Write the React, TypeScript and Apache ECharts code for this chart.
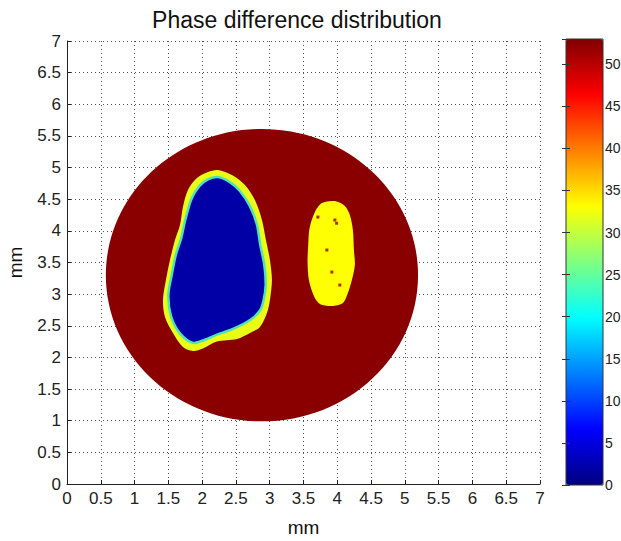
import React, { useEffect, useRef } from 'react';
import * as echarts from 'echarts';

// ---- data (mm / phase units) ----
const axisMin = 0;
const axisMax = 7;
const axisStep = 0.5;

const colorbarMin = 0;
const colorbarMax = 53;
const colorbarStep = 5;

// sample disc
const discCenter = [2.885, 3.3];
const discRadius = 2.31;
const discPhase = 52.5;

// large (left) region: outer rim and core
const leftRimOutline = [
  [2.234, 4.961], [2.441, 4.882], [2.633, 4.724], [2.781, 4.487], [2.885, 4.171],
  [2.944, 3.855], [3.003, 3.539], [3.033, 3.223], [3.003, 2.907], [2.959, 2.701],
  [2.855, 2.48], [2.707, 2.385], [2.515, 2.29], [2.219, 2.25], [2.012, 2.14],
  [1.864, 2.1], [1.716, 2.164], [1.568, 2.385], [1.45, 2.638], [1.42, 2.907],
  [1.464, 3.223], [1.524, 3.539], [1.598, 3.855], [1.672, 4.092], [1.716, 4.376],
  [1.79, 4.645], [1.923, 4.834], [2.086, 4.929],
];
const leftRimPhase = 32;

const leftCoreOutline = [
  [2.234, 4.85], [2.411, 4.77], [2.559, 4.63], [2.707, 4.39], [2.81, 4.1],
  [2.86, 3.78], [2.92, 3.46], [2.94, 3.144], [2.91, 2.907], [2.86, 2.749],
  [2.72, 2.6], [2.456, 2.45], [2.219, 2.36], [2.041, 2.28], [1.864, 2.23],
  [1.672, 2.38], [1.54, 2.65], [1.5, 2.986], [1.55, 3.302], [1.61, 3.618],
  [1.69, 3.886], [1.75, 4.171], [1.84, 4.5], [1.96, 4.71], [2.1, 4.82],
];
const leftCorePhase = 2;

// small (right) region
const rightRegionOutline = [
  [3.772, 4.439], [3.964, 4.471], [4.112, 4.392], [4.186, 4.25], [4.231, 4.013],
  [4.246, 3.697], [4.26, 3.46], [4.216, 3.223], [4.157, 3.017], [4.083, 2.859],
  [3.92, 2.812], [3.743, 2.844], [3.654, 2.97], [3.58, 3.223], [3.56, 3.507],
  [3.57, 3.776], [3.59, 4.044], [3.669, 4.297],
];
const rightRegionPhase = 33;

// dark specks inside the right region
const speckX = [3.964, 3.92, 3.713, 3.846, 4.038, 3.99];
const speckY = [4.171, 3.349, 4.218, 3.697, 3.144, 4.12];
const speckPhase = 52;

const jetColors = [
  '#000080', '#0000FF', '#0080FF', '#00FFFF', '#80FF80',
  '#FFFF00', '#FF8000', '#FF0000', '#800000',
];

const outlines: number[][][] = [[], leftRimOutline, leftCoreOutline, rightRegionOutline];
const regionPhases = [discPhase, leftRimPhase, leftCorePhase, rightRegionPhase];

const FONT = '"Liberation Sans", Arial, Helvetica, sans-serif';

export default function App() {
  const ref = useRef<HTMLDivElement>(null);

  useEffect(() => {
    if (!ref.current) return;
    const chart = echarts.init(ref.current, undefined, { renderer: 'svg' });

    const regionData = regionPhases.map((v, i) => [i, 0, v]);
    const speckData = speckX.map((x, i) => [x, speckY[i], speckPhase]);

    const mainAxisCommon = {
      type: 'value' as const,
      min: axisMin,
      max: axisMax,
      interval: axisStep,
      axisLine: { show: true, lineStyle: { color: '#222', width: 1 } },
      axisTick: { show: true, inside: true, length: 4, lineStyle: { color: '#222' } },
      axisLabel: { color: '#222', fontSize: 17, fontFamily: FONT, margin: 6 },
      splitLine: { show: true, lineStyle: { color: '#555', type: [1, 3] as any, width: 1 } },
      nameTextStyle: { color: '#111', fontSize: 19, fontFamily: FONT },
    };

    chart.setOption({
      animation: false,
      backgroundColor: '#fff',
      title: {
        text: 'Phase difference distribution',
        left: 292,
        textAlign: 'center',
        top: 3,
        textStyle: { fontSize: 23, fontWeight: 'normal', color: '#111', fontFamily: FONT },
      },
      grid: [
        { left: 67, top: 41, width: 473, height: 443, show: false, outerBoundsMode: 'none', containLabel: false },
        {
          left: 566, top: 39, width: 37, height: 446, show: true, borderColor: '#333', borderWidth: 1,
          backgroundColor: 'transparent', z: 10, outerBoundsMode: 'none', containLabel: false,
        },
      ],
      xAxis: [
        { ...mainAxisCommon, gridIndex: 0, name: 'mm', nameLocation: 'middle', nameGap: 34 },
        { type: 'value', gridIndex: 1, min: 0, max: 1, show: false },
      ],
      yAxis: [
        { ...mainAxisCommon, gridIndex: 0, name: 'mm', nameLocation: 'middle', nameGap: 42, nameRotate: 90 },
        {
          type: 'value', gridIndex: 1, position: 'right', min: colorbarMin, max: colorbarMax, interval: colorbarStep,
          axisLine: { show: false },
          axisTick: { show: true, inside: true, length: 4, lineStyle: { color: '#333' } },
          axisLabel: {
            color: '#222', fontSize: 14, fontFamily: FONT, margin: 2, align: 'left',
            formatter: (v: number) => (v % colorbarStep === 0 ? String(v) : ''),
          },
          splitLine: { show: false },
          z: 12,
        },
        {
          type: 'value', gridIndex: 1, position: 'left', min: colorbarMin, max: colorbarMax, interval: colorbarStep,
          axisLine: { show: false },
          axisTick: { show: true, inside: true, length: 4, lineStyle: { color: '#333' } },
          axisLabel: { show: false },
          splitLine: { show: false },
          z: 12,
        },
      ],
      visualMap: {
        type: 'continuous',
        min: colorbarMin,
        max: colorbarMax,
        dimension: 2,
        seriesIndex: [0, 1],
        calculable: false,
        realtime: false,
        left: 566,
        top: 39,
        padding: 0,
        itemWidth: 37,
        itemHeight: 446,
        text: null,
        inRange: { color: jetColors },
      },
      series: [
        {
          type: 'custom',
          xAxisIndex: 0,
          yAxisIndex: 0,
          data: regionData,
          renderItem: (params: any, api: any) => {
            const i = api.value(0);
            const color = api.visual('color');
            if (i === 0) {
              const c = api.coord(discCenter);
              const s = api.size([discRadius, discRadius]);
              return {
                type: 'ellipse',
                shape: { cx: c[0], cy: c[1], rx: s[0], ry: s[1] },
                style: { fill: color },
              };
            }
            const pts = outlines[i].map((p) => api.coord(p));
            return {
              type: 'polygon',
              shape: { points: pts, smooth: 0.3 },
              style: i === 2
                ? { fill: color, stroke: '#4fe3b8', lineWidth: 2.5 }
                : { fill: color },
            };
          },
        },
        {
          type: 'scatter',
          xAxisIndex: 0,
          yAxisIndex: 0,
          symbol: 'rect',
          symbolSize: 3,
          data: speckData,
        },
      ],
    });

    return () => chart.dispose();
  }, []);

  return (
    <div
      ref={ref}
      style={{ position: 'absolute', left: 0, top: 0, width: 621, height: 541 }}
    />
  );
}
